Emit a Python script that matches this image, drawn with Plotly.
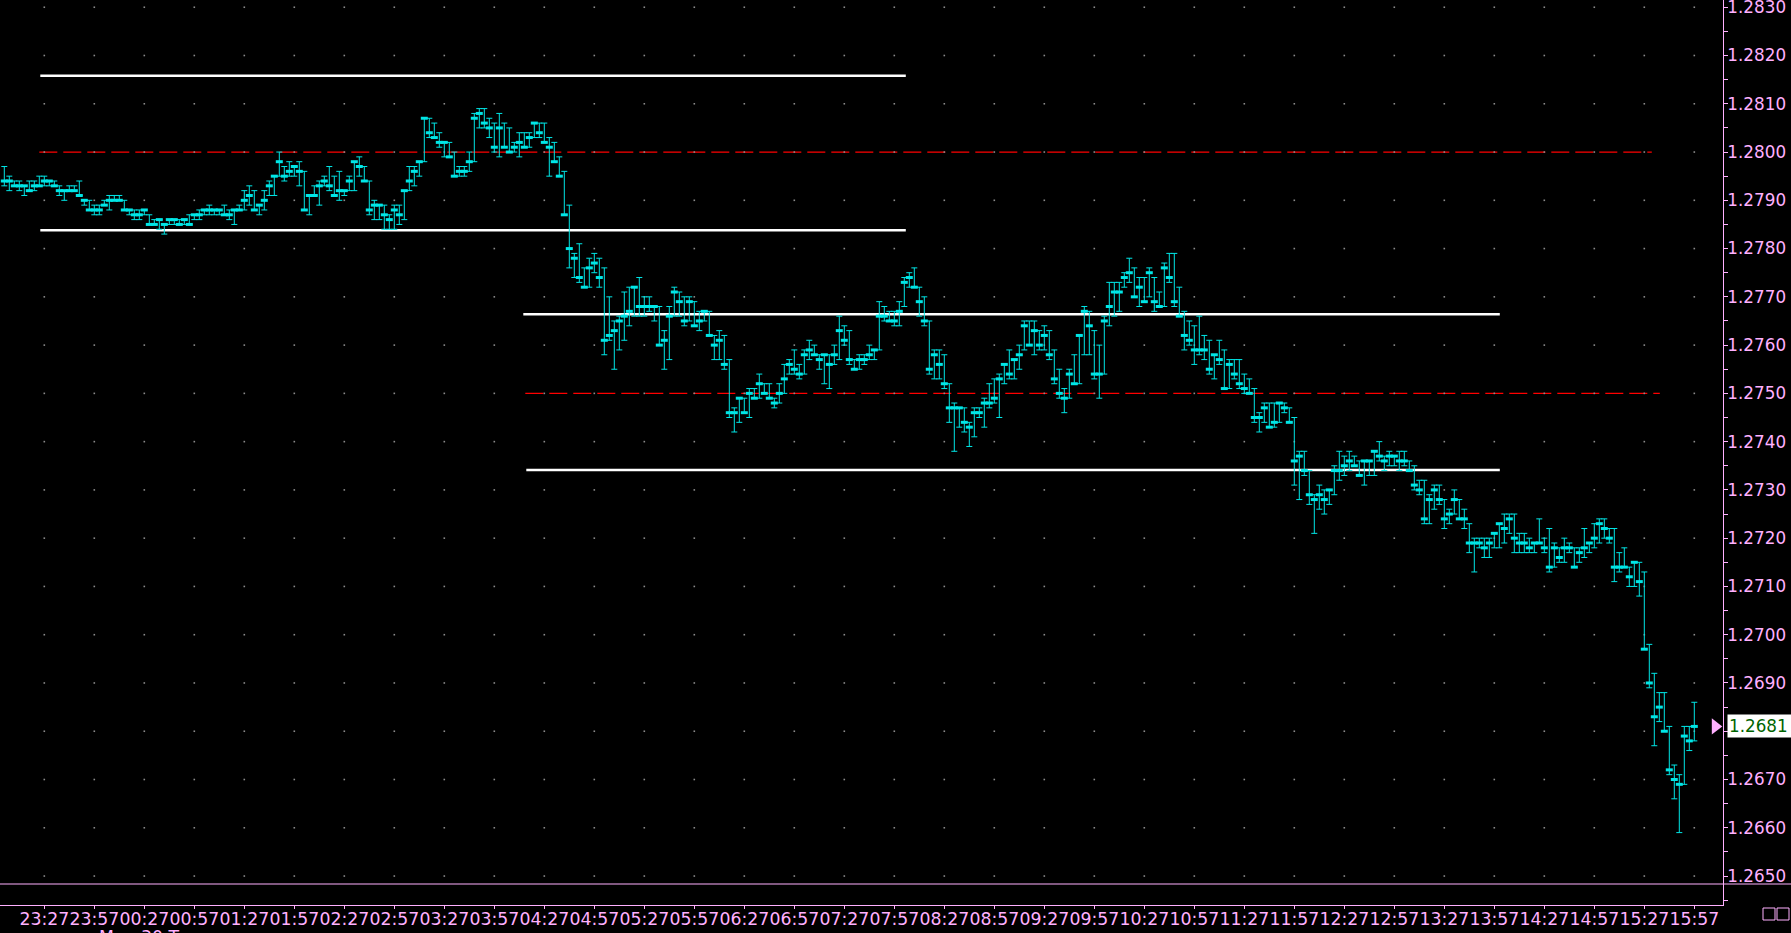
import plotly.graph_objects as go

# ---------------- data (prices in pips above 1.2700) ----------------
PIP_BASE = 1.2700
PIP = 0.0001

HIGH_PIPS = [
    97, 95, 94, 94, 93, 94, 94, 95, 95, 94,
    94, 93, 92, 93, 93, 94, 90, 90, 89, 89,
    90, 91, 91, 91, 90, 88, 88, 88, 88, 87,
    86, 86, 85, 86, 86, 86, 86, 87, 87, 88,
    88, 89, 88, 88, 89, 88, 88, 89, 92, 93,
    92, 89, 92, 94, 95, 100, 97, 98, 97, 98,
    96, 91, 93, 94, 95, 97, 95, 96, 92, 95,
    98, 99, 97, 94, 90, 89, 89, 87, 89, 89,
    92, 97, 97, 98, 107, 107, 106, 104, 102, 102,
    100, 97, 97, 100, 108, 109, 109, 107, 106, 108,
    106, 105, 102, 104, 104, 104, 106, 106, 106, 103,
    102, 99, 96, 89, 79, 81, 76, 78, 79, 78,
    76, 70, 65, 66, 71, 72, 72, 74, 70, 70,
    68, 68, 63, 68, 72, 71, 70, 70, 69, 67,
    67, 67, 62, 63, 62, 57, 47, 49, 49, 51,
    51, 54, 52, 52, 49, 52, 56, 57, 59, 56,
    59, 61, 60, 58, 58, 58, 60, 66, 64, 63,
    57, 58, 58, 60, 59, 69, 68, 67, 67, 69,
    74, 75, 76, 72, 70, 65, 59, 59, 58, 52,
    48, 47, 47, 44, 47, 47, 49, 52, 53, 54,
    56, 59, 57, 60, 65, 65, 65, 63, 64, 63,
    59, 55, 51, 55, 58, 62, 68, 67, 63, 60,
    66, 73, 73, 73, 75, 78, 76, 74, 74, 76,
    74, 71, 77, 79, 79, 72, 67, 65, 64, 66,
    62, 61, 58, 61, 59, 57, 57, 57, 54, 53,
    51, 46, 48, 48, 48, 48, 48, 47, 45, 38,
    38, 34, 29, 31, 30, 30, 35, 38, 37, 38,
    37, 36, 36, 36, 38, 40, 37, 38, 37, 38,
    38, 36, 35, 32, 32, 29, 31, 31, 28, 26,
    30, 28, 26, 23, 20, 20, 20, 20, 21, 23,
    25, 25, 25, 21, 21, 20, 19, 24, 20, 22,
    19, 18, 20, 19, 18, 18, 22, 19, 23, 24,
    24, 22, 22, 17, 18, 14, 15, 15, 13, -2,
    -8, -12, -12, -19, -27, -29, -19, -19, -14,
]

LOW_PIPS = [
    93, 92, 93, 92, 91, 92, 92, 93, 93, 93,
    93, 91, 90, 92, 92, 91, 89, 88, 87, 87,
    89, 88, 90, 90, 88, 87, 86, 86, 87, 85,
    85, 84, 83, 85, 85, 85, 85, 85, 86, 86,
    87, 87, 87, 87, 87, 86, 85, 88, 88, 89,
    88, 87, 88, 91, 91, 95, 94, 95, 95, 93,
    88, 87, 91, 89, 93, 92, 91, 90, 91, 92,
    92, 95, 94, 87, 86, 86, 84, 84, 84, 85,
    86, 92, 93, 95, 98, 103, 103, 101, 99, 99,
    95, 95, 95, 96, 98, 105, 105, 103, 100, 99,
    101, 100, 100, 99, 101, 101, 103, 103, 102, 95,
    98, 95, 87, 76, 74, 73, 72, 72, 75, 72,
    58, 61, 55, 59, 61, 64, 66, 66, 66, 67,
    65, 60, 55, 57, 66, 66, 64, 65, 64, 63,
    65, 62, 57, 57, 55, 45, 42, 44, 46, 45,
    49, 49, 50, 49, 47, 48, 50, 54, 54, 53,
    54, 57, 58, 55, 52, 51, 56, 57, 60, 56,
    55, 55, 56, 57, 57, 59, 65, 65, 64, 64,
    68, 72, 72, 66, 64, 54, 53, 53, 51, 44,
    38, 43, 42, 39, 41, 45, 43, 47, 48, 45,
    52, 53, 53, 55, 59, 60, 58, 59, 59, 57,
    52, 49, 46, 49, 52, 52, 58, 58, 53, 49,
    54, 64, 66, 67, 72, 73, 70, 68, 69, 70,
    67, 68, 68, 73, 68, 66, 59, 60, 56, 58,
    57, 54, 53, 56, 51, 51, 53, 51, 50, 50,
    44, 42, 44, 43, 43, 44, 46, 44, 31, 28,
    33, 27, 21, 26, 25, 27, 29, 32, 33, 34,
    35, 33, 31, 33, 33, 36, 34, 35, 35, 34,
    35, 34, 30, 29, 23, 23, 26, 27, 22, 23,
    25, 24, 22, 17, 13, 18, 16, 16, 18, 18,
    19, 21, 17, 17, 17, 17, 17, 19, 17, 13,
    14, 15, 15, 17, 14, 15, 16, 17, 18, 19,
    20, 19, 11, 13, 14, 10, 10, 8, -3, -11,
    -23, -18, -20, -29, -34, -41, -31, -24, -22,
]

CLOSE_PIPS = [
    94, 94, 93, 93, 93, 92, 93, 93, 94, 94,
    93, 92, 92, 92, 92, 91, 90, 88, 88, 88,
    89, 90, 90, 90, 88, 88, 87, 87, 88, 85,
    85, 86, 85, 86, 86, 85, 86, 85, 87, 87,
    88, 88, 88, 88, 87, 87, 88, 88, 90, 91,
    88, 89, 90, 93, 95, 98, 95, 96, 97, 96,
    88, 91, 91, 93, 94, 93, 91, 92, 92, 94,
    98, 97, 94, 88, 89, 89, 87, 86, 88, 87,
    92, 94, 96, 98, 107, 104, 103, 102, 102, 99,
    95, 96, 96, 98, 107, 108, 106, 105, 101, 105,
    101, 100, 101, 102, 101, 103, 106, 104, 102, 101,
    98, 95, 87, 80, 78, 74, 72, 76, 77, 74,
    61, 62, 63, 65, 66, 67, 72, 68, 68, 68,
    68, 60, 61, 66, 71, 69, 65, 69, 64, 65,
    67, 62, 60, 61, 56, 46, 46, 49, 46, 50,
    49, 52, 50, 49, 48, 50, 53, 56, 55, 54,
    58, 59, 58, 57, 58, 56, 58, 63, 61, 57,
    55, 57, 57, 58, 59, 66, 66, 65, 65, 67,
    73, 74, 72, 69, 65, 55, 58, 56, 52, 47,
    47, 47, 44, 43, 46, 46, 48, 48, 49, 53,
    56, 54, 57, 58, 64, 60, 63, 60, 62, 58,
    53, 50, 49, 54, 52, 62, 67, 64, 54, 54,
    65, 68, 71, 71, 74, 75, 70, 72, 69, 75,
    69, 68, 76, 74, 69, 66, 62, 61, 59, 59,
    59, 55, 58, 57, 51, 56, 54, 52, 51, 50,
    45, 45, 47, 43, 44, 48, 47, 44, 36, 37,
    34, 29, 28, 29, 28, 30, 34, 34, 35, 36,
    35, 33, 36, 36, 38, 37, 36, 37, 37, 36,
    36, 34, 31, 30, 24, 28, 30, 28, 24, 25,
    28, 24, 24, 19, 19, 19, 18, 19, 21, 23,
    22, 24, 20, 19, 19, 18, 19, 19, 18, 14,
    18, 16, 18, 18, 14, 17, 18, 19, 20, 23,
    22, 20, 14, 14, 14, 12, 15, 11, -3, -10,
    -17, -15, -20, -28, -30, -31, -21, -22, -19,
]

TIME_LABELS = [
    "23:27", "23:57", "00:27", "00:57", "01:27", "01:57", "02:27", "02:57",
    "03:27", "03:57", "04:27", "04:57", "05:27", "05:57", "06:27", "06:57",
    "07:27", "07:57", "08:27", "08:57", "09:27", "09:57", "10:27", "10:57",
    "11:27", "11:57", "12:27", "12:57", "13:27", "13:57", "14:27", "14:57",
    "15:27", "15:57",
]
FIRST_LABEL_BAR = 8      # 3-minute bars: first label falls on bar 8
BARS_PER_LABEL = 10      # 30 minutes

PRICE_TICKS = [
    1.2650, 1.2660, 1.2670, 1.2680, 1.2690, 1.2700, 1.2710, 1.2720, 1.2730,
    1.2740, 1.2750, 1.2760, 1.2770, 1.2780, 1.2790, 1.2800, 1.2810, 1.2820,
    1.2830,
]

# drawn horizontal levels: price, first bar, last bar
WHITE_PRICES = [1.28158, 1.27838, 1.27664, 1.27341]
WHITE_START = [7.2, 7.2, 103.8, 104.4]
WHITE_END = [180.3, 180.3, 299.1, 299.1]
RED_PRICES = [1.2800, 1.2750]
RED_START = [7.0, 104.2]
RED_END = [329.5, 331.1]

# ---------------- derived ----------------
n = len(CLOSE_PIPS)
bars = list(range(n))
high = [PIP_BASE + h * PIP for h in HIGH_PIPS]
low = [PIP_BASE + l * PIP for l in LOW_PIPS]
close = [PIP_BASE + c * PIP for c in CLOSE_PIPS]
tick_bars = [FIRST_LABEL_BAR + BARS_PER_LABEL * k for k in range(len(TIME_LABELS))]

CYAN = "#00E6E6"
PINK = "#FFB0FF"
FONT = "DejaVu Sans, Verdana, sans-serif"
FS = 17.3
FSY = 16.8

W, H = 1791, 933
ML, MR, MT, MB = 0, 68, 0, 28

fig = go.Figure()

# dotted grid (dots at tick intersections)
gx = [t for p in PRICE_TICKS for t in tick_bars]
gy = [p for p in PRICE_TICKS for t in tick_bars]
fig.add_trace(go.Scatter(
    x=gx, y=gy, mode="markers",
    marker=dict(size=1.6, color="#8c8c8c", symbol="square"),
    hoverinfo="skip", showlegend=False,
))

# price bars: high-low range with caps, close tick
fig.add_trace(go.Scatter(
    x=bars, y=close, mode="markers",
    marker=dict(symbol="line-ew", size=5, color=CYAN, line=dict(width=3, color=CYAN)),
    error_y=dict(
        type="data", symmetric=False,
        array=[h - c for h, c in zip(high, close)],
        arrayminus=[c - l for c, l in zip(close, low)],
        color=CYAN, thickness=1, width=3,
    ),
    showlegend=False,
))

# last price arrow
fig.add_trace(go.Scatter(
    x=[bars[-1] + 4.2], y=[close[-1]], mode="markers",
    marker=dict(symbol="triangle-right", size=14, color=PINK),
    cliponaxis=False, hoverinfo="skip", showlegend=False,
))

shapes = []
for p, s, e in zip(WHITE_PRICES, WHITE_START, WHITE_END):
    shapes.append(dict(type="line", xref="x", yref="y", x0=s, x1=e, y0=p, y1=p,
                       line=dict(color="white", width=2.5), layer="below"))
for p, s, e in zip(RED_PRICES, RED_START, RED_END):
    shapes.append(dict(type="line", xref="x", yref="y", x0=s, x1=e, y0=p, y1=p,
                       line=dict(color="#FF0000", width=1.2, dash="18px,6px"), layer="below"))

plot_w = W - ML - MR
plot_h = H - MT - MB
# separator line of the lower pane (21 px above the time axis)
sep_y = 21 / plot_h
shapes.append(dict(type="line", xref="paper", yref="paper", x0=0, x1=W / plot_w,
                   y0=sep_y, y1=sep_y, line=dict(color=PINK, width=1)))
# two small window boxes at bottom right
for x0p, x1p in [(1763, 1775), (1777, 1789)]:
    shapes.append(dict(type="rect", xref="paper", yref="paper",
                       x0=x0p / plot_w, x1=x1p / plot_w,
                       y0=-3 / plot_h, y1=-15 / plot_h,
                       line=dict(color=PINK, width=1)))

annotations = [
    dict(xref="paper", yref="y", x=1727 / plot_w, y=close[-1], xanchor="left", yanchor="middle",
         text="{:.4f}".format(close[-1]), showarrow=False, bgcolor="white",
         font=dict(family=FONT, size=FSY, color="#006400"), borderpad=1, width=64, align="left"),
    dict(xref="paper", yref="paper", x=97 / plot_w, y=-20 / plot_h, xanchor="left", yanchor="top",
         text="Mon 30 T", showarrow=False, font=dict(family=FONT, size=FS, color=PINK)),
]

fig.update_layout(
    width=W, height=H, autosize=False,
    margin=dict(l=ML, r=MR, t=MT, b=MB, pad=0, autoexpand=False),
    paper_bgcolor="black", plot_bgcolor="black",
    shapes=shapes, annotations=annotations,
    showlegend=False,
    xaxis=dict(
        range=[-0.86, 343.74], showgrid=False, zeroline=False, automargin=False,
        tickmode="array", tickvals=tick_bars, ticktext=TIME_LABELS, tickangle=0,
        ticks="outside", ticklen=3, tickcolor=PINK,
        showline=True, linecolor=PINK, linewidth=1,
        ticklabelstandoff=-5,
        tickfont=dict(family=FONT, size=FS, color=PINK),
    ),
    yaxis=dict(
        side="right", range=[1.26440, 1.28315], showgrid=False, zeroline=False, automargin=False,
        tickmode="array", tickvals=PRICE_TICKS, ticktext=["{:.4f}".format(p) for p in PRICE_TICKS],
        ticks="outside", ticklen=4, tickcolor=PINK, ticklabeloverflow="allow",
        ticklabelstandoff=-4,
        minor=dict(dtick=0.0005, tick0=1.2645, ticks="outside", ticklen=4, tickcolor=PINK),
        showline=True, linecolor=PINK, linewidth=1,
        tickfont=dict(family=FONT, size=FSY, color=PINK),
    ),
)

fig.write_html(
    "out.html",
    config={"displayModeBar": False},
    post_script="document.body.style.margin='0';document.body.style.background='black';",
)
